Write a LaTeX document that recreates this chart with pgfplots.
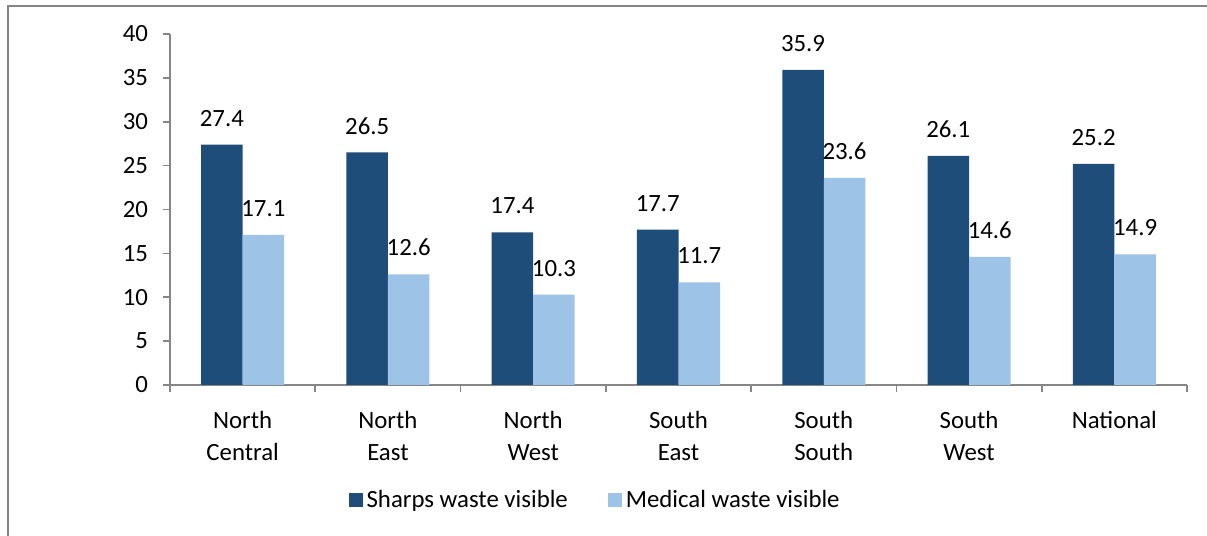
\documentclass[border=0pt]{standalone}
\usepackage{fontspec}
\setmainfont{Carlito}
\usepackage{pgfplots}
\pgfplotsset{compat=1.18}
\definecolor{sharps}{RGB}{31,77,121}
\definecolor{medical}{RGB}{157,195,230}
\definecolor{axgray}{RGB}{134,134,134}
\begin{document}
\begin{tikzpicture}
% page is 1207x536 px at 0.5pt per px
\path[use as bounding box] (0,0) rectangle (603.5pt,268pt);
\draw[axgray, line width=1pt] (3.75pt,0pt) -- (3.75pt,264.75pt) -- (603.5pt,264.75pt);
\begin{axis}[
    at={(85pt,75.5pt)}, anchor=south west,
    scale only axis,
    width=508.5pt, height=175.5pt,
    ybar=0pt, bar width=20.75pt,
    xmin=-0.5, xmax=6.5,
    ymin=0, ymax=40,
    ytick={0,5,...,40},
    xtick={0,...,6},
    xticklabels={North\\Central, North\\East, North\\West, South\\East, South\\South, South\\West, National},
    minor xtick={-0.5,0.5,...,6.5},
    major x tick style={draw=none},
    tick align=outside,
    major tick length=3.5pt, minor tick length=3.5pt,
    axis x line*=bottom, axis y line*=left,
    axis line style={axgray, line width=0.8pt},
    every tick/.style={axgray, line width=0.8pt},
    tick label style={font=\fontsize{12.4}{16}\selectfont},
    xticklabel style={align=center, yshift=-6pt},
    yticklabel style={xshift=-4pt},
    /pgf/number format/assume math mode=true,
    nodes near coords,
    nodes near coords style={font=\fontsize{12.4}{14}\selectfont, anchor=south, yshift=5.6pt,
        /pgf/number format/.cd, fixed, fixed zerofill, precision=1},
    legend columns=2,
    legend style={at={(0.419,-0.328)}, anchor=center, draw=none,
        font=\fontsize{12.4}{14}\selectfont,
        /tikz/every even column/.append style={column sep=18pt}},
]
\addplot[fill=sharps, draw=none,
    legend image code/.code={\fill[sharps] (0pt,-3.5pt) rectangle (7pt,3.5pt);}]
    coordinates {(0,27.4) (1,26.5) (2,17.4) (3,17.7) (4,35.9) (5,26.1) (6,25.2)};
\addplot[fill=medical, draw=none,
    legend image code/.code={\fill[medical] (0pt,-3.5pt) rectangle (7pt,3.5pt);}]
    coordinates {(0,17.1) (1,12.6) (2,10.3) (3,11.7) (4,23.6) (5,14.6) (6,14.9)};
\legend{Sharps waste visible, Medical waste visible}
\end{axis}
\end{tikzpicture}
\end{document}
